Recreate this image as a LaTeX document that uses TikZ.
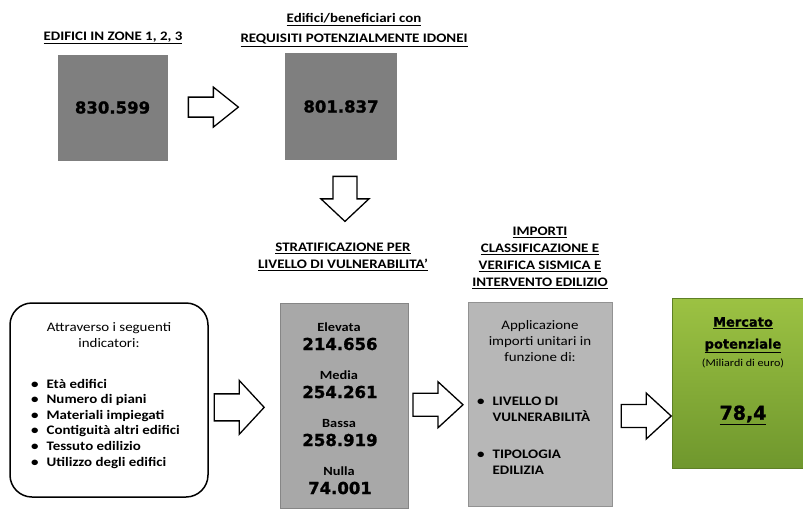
\documentclass[tikz,border=0pt]{standalone}
\usepackage{fontspec}
\setmainfont{Carlito}[FakeStretch=1.15]
\newfontfamily\heavyfont{DejaVu Sans Bold}[FakeBold=1.2]
\usetikzlibrary{positioning,calc}

\definecolor{boxgray}{HTML}{7F7F7F}
\definecolor{stratgray}{HTML}{A8A8A8}
\definecolor{impgray}{HTML}{B7B7B7}
\definecolor{mktlight}{HTML}{9CC243}
\definecolor{mktdark}{HTML}{6F972D}

\tikzset{
  titletext/.style={font=\fontsize{13}{17}\selectfont\bfseries, align=center, inner sep=0},
  bodytext/.style={font=\fontsize{13}{16}\selectfont, align=center, inner sep=0},
  darkbox/.style={fill=boxgray, minimum width=110pt, minimum height=106pt, inner sep=0,
    font=\heavyfont\fontsize{16.5}{18}\selectfont},
  graybox/.style={draw=#1!80!black, fill=#1, line width=1pt, inner sep=0},
  blockarr/.pic={\draw[line width=1.3pt, fill=white]
    (-25,-10) -- (0,-10) -- (0,-20) -- (25,0) -- (0,20) -- (0,10) -- (-25,10) -- cycle;}
}

\begin{document}
\begin{tikzpicture}[x=1pt, y=-1pt]
  \useasboundingbox (0,0) rectangle (803,509);

  % top row
  \node[titletext] (t1) at (113,38) {\underline{EDIFICI IN ZONE 1, 2, 3}};
  \node[darkbox] (b1) at (112.5,107.5) {830.599};
  \node[titletext, font=\fontsize{13}{20}\selectfont\bfseries] (t2) at (354,30)
    {\underline{Edifici/beneficiari con}\\\underline{REQUISITI POTENZIALMENTE IDONEI}};
  \node[darkbox, minimum width=112pt, minimum height=107pt] (b2) at (341,106.5) {801.837};

  % bottom row titles
  \node[titletext] (t3) at (343,256.5) {\underline{STRATIFICAZIONE PER}\\\underline{LIVELLO DI VULNERABILITA'}};
  \node[titletext] (t4) at (540,257.5)
    {\underline{IMPORTI}\\\underline{CLASSIFICAZIONE E}\\\underline{VERIFICA SISMICA E}\\\underline{INTERVENTO EDILIZIO}};

  % criteria box
  \node[draw, line width=1.5pt, rounded corners=22pt, minimum width=198pt, minimum height=194pt] (crit) at (109,400) {};
  \node[bodytext] (crithead) at (109,335) {Attraverso i seguenti\\indicatori:};
  \node[inner sep=0, anchor=west, font=\fontsize{13}{15.6}\selectfont\bfseries] (critlist) at (31,424)
    {\begin{tabular}{@{}l@{\hspace{8pt}}l@{}}
      \textbullet & Età edifici\\
      \textbullet & Numero di piani\\
      \textbullet & Materiali impiegati\\
      \textbullet & Contiguità altri edifici\\
      \textbullet & Tessuto edilizio\\
      \textbullet & Utilizzo degli edifici
    \end{tabular}};

  % stratification box
  \node[graybox=stratgray, minimum width=128pt, minimum height=205pt] (strat) at (344,405.5) {};
  \foreach \lv/\nm [count=\i] in {Elevata/214.656, Media/254.261, Bassa/258.919, Nulla/74.001} {
    \node[font=\fontsize{12.5}{14}\selectfont\bfseries, inner sep=0] (lv\i) at (339,279+48*\i) {\lv};
    \node[font=\heavyfont\fontsize{16.5}{18}\selectfont, inner sep=0] (nm\i) at (340,296+48*\i) {\nm};
  }

  % unit costs box
  \node[graybox=impgray, minimum width=144pt, minimum height=204pt] (imp) at (540,404) {};
  \node[bodytext] (imphead) at (540,341) {Applicazione\\importi unitari in\\funzione di:};
  \node[inner sep=0, anchor=west, font=\fontsize{13}{16}\selectfont\bfseries] (implist) at (477,437)
    {\begin{tabular}{@{}l@{\hspace{8pt}}l@{}}
      \textbullet & LIVELLO DI\\
       & VULNERABILITÀ\\[21pt]
      \textbullet & TIPOLOGIA\\
       & EDILIZIA
    \end{tabular}};

  % market box
  \node[draw=mktdark!85!black, top color=mktlight, bottom color=mktdark, line width=0.8pt,
    minimum width=131pt, minimum height=170pt, inner sep=0] (mkt) at (737.5,383) {};
  \node[font=\heavyfont\fontsize{13}{15}\selectfont, inner sep=0] (mkt1) at (743,323) {\underline{Mercato}};
  \node[font=\heavyfont\fontsize{13}{15}\selectfont, inner sep=0] (mkt2) at (743,346) {\underline{potenziale}};
  \node[font=\fontsize{10.5}{12}\selectfont, inner sep=0] (mkt3) at (743,363) {(Miliardi di euro)};
  \node[font=\heavyfont\fontsize{19}{21}\selectfont, inner sep=0] (mkt4) at (743,415) {\underline{78,4}};

  % block arrows
  \pic at ($(b1.east)!0.39!(b2.west)$) {blockarr};
  \pic[rotate=-90, xscale=0.9, yscale=1.2] at ($(b2.south)!0.47!(t3.north)+(3,0)$) {blockarr};
  \pic[yscale=1.35] at ($(crit.east)!0.43!(strat.west)+(0,5)$) {blockarr};
  \pic[yscale=1.15] at ($(strat.east)!0.5!(imp.west)$) {blockarr};
  \pic[yscale=1.15] at ($(imp.east)!0.57!(mkt.west)+(0,24)$) {blockarr};
\end{tikzpicture}
\end{document}
